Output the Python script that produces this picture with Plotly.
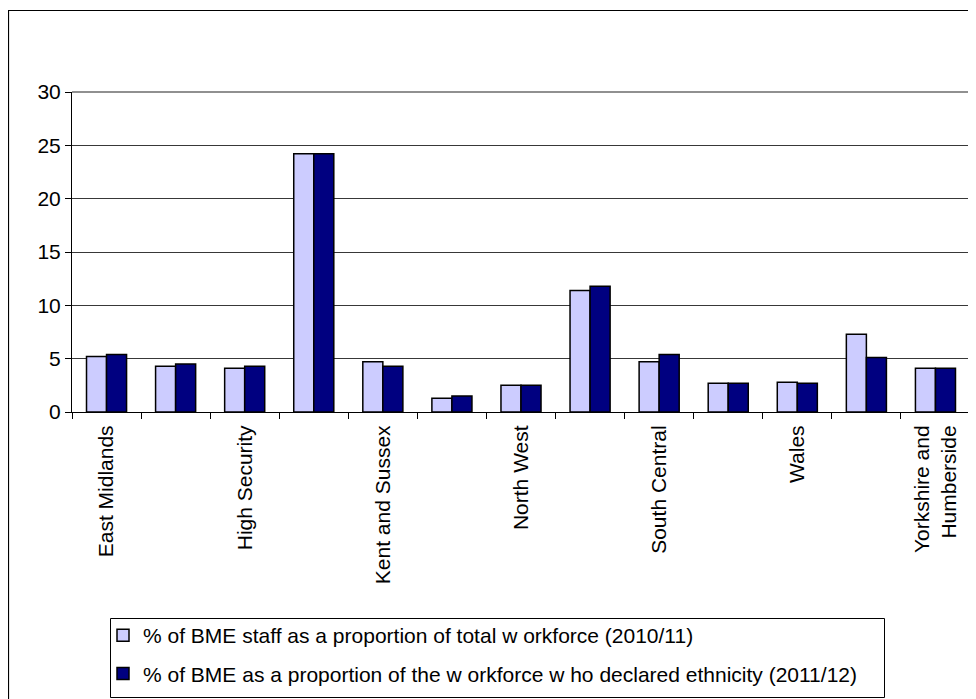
import plotly.graph_objects as go

categories = ["East Midlands", "East of England", "High Security", "London",
              "Kent and Sussex", "North East", "North West", "Greater London",
              "South Central", "South West", "Wales", "West Midlands",
              "Yorkshire and Humberside"]
tick_labels = ["East Midlands", "", "High Security", "", "Kent and Sussex", "",
               "North West", "", "South Central", "", "Wales", "",
               "Yorkshire and<br>Humberside"]
series_2010 = [5.2, 4.3, 4.1, 24.2, 4.7, 1.3, 2.5, 11.4, 4.7, 2.7, 2.8, 7.3, 4.1]
series_2011 = [5.4, 4.5, 4.3, 24.2, 4.3, 1.5, 2.5, 11.8, 5.4, 2.7, 2.7, 5.1, 4.1]
name_2010 = "% of BME staff as a proportion of total w orkforce (2010/11)"
name_2011 = "% of BME as a proportion of the w orkforce w ho declared ethnicity (2011/12)"

FONT = "Liberation Sans, Arial, sans-serif"

fig = go.Figure()
fig.add_trace(go.Bar(x=categories, y=series_2010, name=name_2010,
                     marker=dict(color="#CCCCFF", line=dict(color="black", width=1.5)),
                     legendgroup="a"))
fig.add_trace(go.Bar(x=categories, y=series_2011, name=name_2011,
                     marker=dict(color="#000080", line=dict(color="black", width=1.5)),
                     legendgroup="b"))

# page body adds an 8px offset; figure coordinates below are page coords - 8
W, H = 976, 699
L, R, T, B = 64, 962, 84, 404
pw, ph = R - L, B - T

def px_x(x):
    return (x - L) / pw

def px_y(y):
    return (B - y) / ph

fig.update_layout(
    width=W, height=H,
    margin=dict(l=L, r=W - R, t=T, b=H - B, pad=0, autoexpand=False),
    paper_bgcolor="white", plot_bgcolor="white",
    font=dict(family=FONT, size=21, color="black"),
    barmode="group", bargap=0.42, bargroupgap=0,
    showlegend=True,
    legend=dict(x=px_x(95), y=px_y(607), xanchor="left", yanchor="top",
                borderwidth=0, bgcolor="rgba(0,0,0,0)",
                font=dict(family=FONT, size=21), traceorder="grouped",
                tracegroupgap=8, itemwidth=30, itemclick=False),
    xaxis=dict(type="category", tickmode="array", tickvals=categories, ticktext=tick_labels,
               tickangle=-90, tickson="boundaries", ticks="outside", ticklen=6,
               tickcolor="black", showline=True, linecolor="black", linewidth=1,
               showgrid=False, tickfont=dict(size=21), range=[-0.5, 12.5],
               ticklabelstandoff=4, automargin=False),
    yaxis=dict(range=[0, 30], dtick=5, showgrid=True, gridcolor="#383838", gridwidth=1,
               ticks="outside", ticklen=6, tickcolor="black", showline=True,
               linecolor="black", linewidth=1, tickfont=dict(size=21), zeroline=False,
               automargin=False),
    shapes=[
        dict(type="line", xref="paper", yref="paper", x0=0, x1=1, y0=1, y1=1,
             line=dict(color="#909090", width=2)),
        dict(type="line", xref="paper", yref="paper", x0=1, x1=1, y0=0, y1=1,
             line=dict(color="#909090", width=2)),
        # outer chart frame
        dict(type="rect", xref="paper", yref="paper", x0=px_x(0.5), x1=px_x(1000),
             y0=px_y(720), y1=px_y(2.5), line=dict(color="black", width=1.2),
             layer="below"),
        # legend frame
        dict(type="rect", xref="paper", yref="paper", x0=px_x(102.5), x1=px_x(876.5),
             y0=px_y(689.5), y1=px_y(610.5), line=dict(color="black", width=1),
             layer="below"),
    ],
)

fig.write_html("out.html")
